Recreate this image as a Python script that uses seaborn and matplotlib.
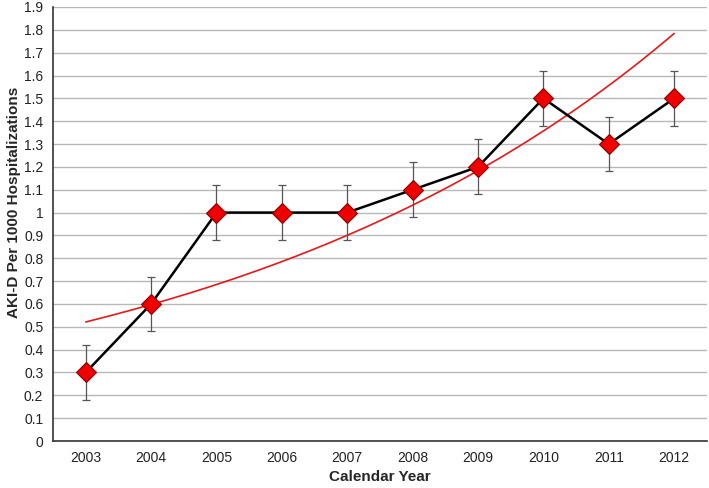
import numpy as np
import pandas as pd
import seaborn as sns
import matplotlib.pyplot as plt
from matplotlib.ticker import FuncFormatter, MultipleLocator

# Yearly AKI-D rate per 1000 hospitalizations
years = ["2003", "2004", "2005", "2006", "2007", "2008", "2009", "2010", "2011", "2012"]
rate = [0.3, 0.6, 1.0, 1.0, 1.0, 1.1, 1.2, 1.5, 1.3, 1.5]
err = [0.12, 0.12, 0.12, 0.12, 0.12, 0.12, 0.12, 0.12, 0.12, 0.12]

df = pd.DataFrame({"year": years, "rate": rate, "err": err})
df["pos"] = np.arange(len(df))

sns.set_style("white")
plt.rcParams["font.family"] = ["Liberation Sans", "DejaVu Sans"]

fig = plt.figure(figsize=(7.09, 4.88), dpi=100)
ax = fig.add_axes([0.0748, 0.0963, 0.9222, 0.8894])

# grid
ax.yaxis.grid(True, color="#b8b8b8", linewidth=1.0)
ax.set_axisbelow(True)

# exponential trendline fitted to the data (like Excel)
b, ln_a = np.polyfit(df["pos"], np.log(df["rate"]), 1)
xs = np.linspace(0, len(df) - 1, 200)
ax.plot(xs, np.exp(ln_a + b * xs), color="#e8191c", linewidth=1.2, zorder=2)

# error bars
ax.errorbar(df["pos"], df["rate"], yerr=df["err"], fmt="none",
            ecolor="#555555", elinewidth=0.9, capsize=3, capthick=0.9, zorder=3)

sns.lineplot(data=df, x="pos", y="rate", color="black", linewidth=1.8,
             marker="D", markersize=10, markerfacecolor="#ee0000",
             markeredgecolor="#8a0000", markeredgewidth=0.8, ax=ax, zorder=4)

ax.set_xlim(-0.5, len(df) - 0.5)
ax.set_ylim(0, 1.9)
ax.yaxis.set_major_locator(MultipleLocator(0.1))
ax.yaxis.set_major_formatter(FuncFormatter(lambda v, p: f"{v:g}" if abs(v) > 1e-9 else "0"))

ax.set_xticks(df["pos"])
ax.set_xticklabels(df["year"])
ax.set_xticks(np.arange(-0.5, len(df)), minor=True)
ax.tick_params(axis="x", which="major", length=0, labelsize=10, pad=7, colors="#222222")
ax.tick_params(axis="x", which="minor", length=4, width=1, direction="out", color="#333333")
ax.tick_params(axis="y", which="major", length=4, width=1, direction="out",
               labelsize=10, pad=3, color="#333333", labelcolor="#222222")

for s in ["top", "right"]:
    ax.spines[s].set_visible(False)
for s in ["left", "bottom"]:
    ax.spines[s].set_color("#333333")
    ax.spines[s].set_linewidth(1.2)

ax.set_xlabel("Calendar Year", fontsize=11, fontweight="bold")
ax.xaxis.set_label_coords(0.5, -0.067)
ax.set_ylabel("AKI-D Per 1000 Hospitalizations", fontsize=11, fontweight="bold")
ax.yaxis.set_label_coords(-0.049, 0.55)

fig.savefig("out.png", dpi=100)
